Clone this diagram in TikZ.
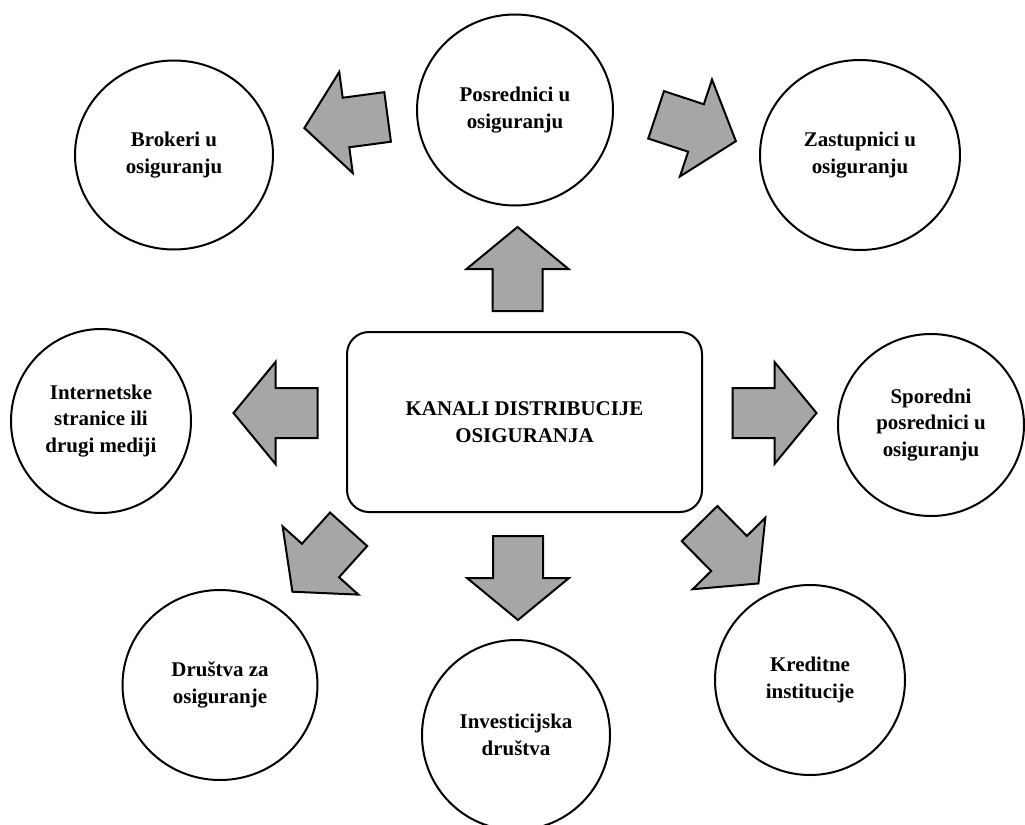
\documentclass[tikz,border=0pt]{standalone}
\usepackage{fontspec}
\setmainfont{Liberation Serif}
\usetikzlibrary{shapes.geometric}
\definecolor{arrowFillColor}{HTML}{A6A6A6}
\definecolor{lineColor}{HTML}{000000}
\definecolor{circleBgColor}{HTML}{FFFFFF}
\def\textCenter{KANALI DISTRIBUCIJE\\OSIGURANJA}
\def\textA{Posrednici u\\osiguranju}
\def\textB{Brokeri u\\osiguranju}
\def\textC{Zastupnici u\\osiguranju}
\def\textD{Internetske\\stranice ili\\drugi mediji}
\def\textE{Sporedni\\posrednici u\\osiguranju}
\def\textF{Društva za\\osiguranje}
\def\textG{Investicijska\\društva}
\def\textH{Kreditne\\institucije}
% block arrow pointing along angle #3, centred at (#1, #2)
\newcommand\blockArrow[3]{%
\begin{scope}[shift={(#1, #2)}, rotate=#3]
\filldraw[fill=arrowFillColor, draw=lineColor, line width=2bp, line join=miter]
(-42, -25) -- (0, -25) -- (0, -51) -- (42, 0) -- (0, 51) -- (0, 25) -- (-42, 25) -- cycle;
\end{scope}}
\tikzset{
channel/.style={ellipse, draw=lineColor, fill=circleBgColor, line width=2bp,
inner sep=0pt, align=center, font=\bfseries\fontsize{21}{26.5}\selectfont},
hub/.style={rectangle, rounded corners=22bp, draw=lineColor, line width=2bp,
inner sep=0pt, minimum width=355bp, minimum height=180bp, align=center,
font=\bfseries\fontsize{21}{26.5}\selectfont}
}
\begin{document}
\begin{tikzpicture}[x=1bp,y=-1bp]

% shift for the margin
\useasboundingbox (0, 0) rectangle (1025, 825);
\begin{scope}[shift={(0, 0)}]

% centre layer
\begin{scope}
\node[hub] (kanali) at (524.5, 422) {\textCenter};
\end{scope}

% circle layer
\begin{scope}
\node[channel, minimum width=196bp, minimum height=191bp] (posrednici) at (515, 110) {\textA};
\node[channel, minimum width=198bp, minimum height=189bp] (brokeri) at (174, 155) {\textB};
\node[channel, minimum width=200bp, minimum height=190bp] (zastupnici) at (860, 155) {\textC};
\node[channel, minimum width=180bp, minimum height=184bp] (internet) at (101, 421) {\textD};
\node[channel, minimum width=186bp, minimum height=182bp] (sporedni) at (931, 425) {\textE};
\node[channel, minimum width=195bp, minimum height=190bp] (drustva) at (220, 685) {\textF};
\node[channel, minimum width=188bp, minimum height=190bp] (investicijska) at (516, 735) {\textG};
\node[channel, minimum width=190bp, minimum height=190bp] (kreditne) at (810, 680) {\textH};
\end{scope}

% arrow layer
\begin{scope}
\blockArrow{517.5}{269}{90}
\blockArrow{346}{122.5}{187.6}
\blockArrow{696}{128}{-18.3}
\blockArrow{275.5}{413}{180}
\blockArrow{774.5}{413}{0}
\blockArrow{320.5}{560.5}{-132}
\blockArrow{518}{578}{-90}
\blockArrow{729}{553.5}{-45.5}
\end{scope}

\end{scope}
\end{tikzpicture}
\end{document}
